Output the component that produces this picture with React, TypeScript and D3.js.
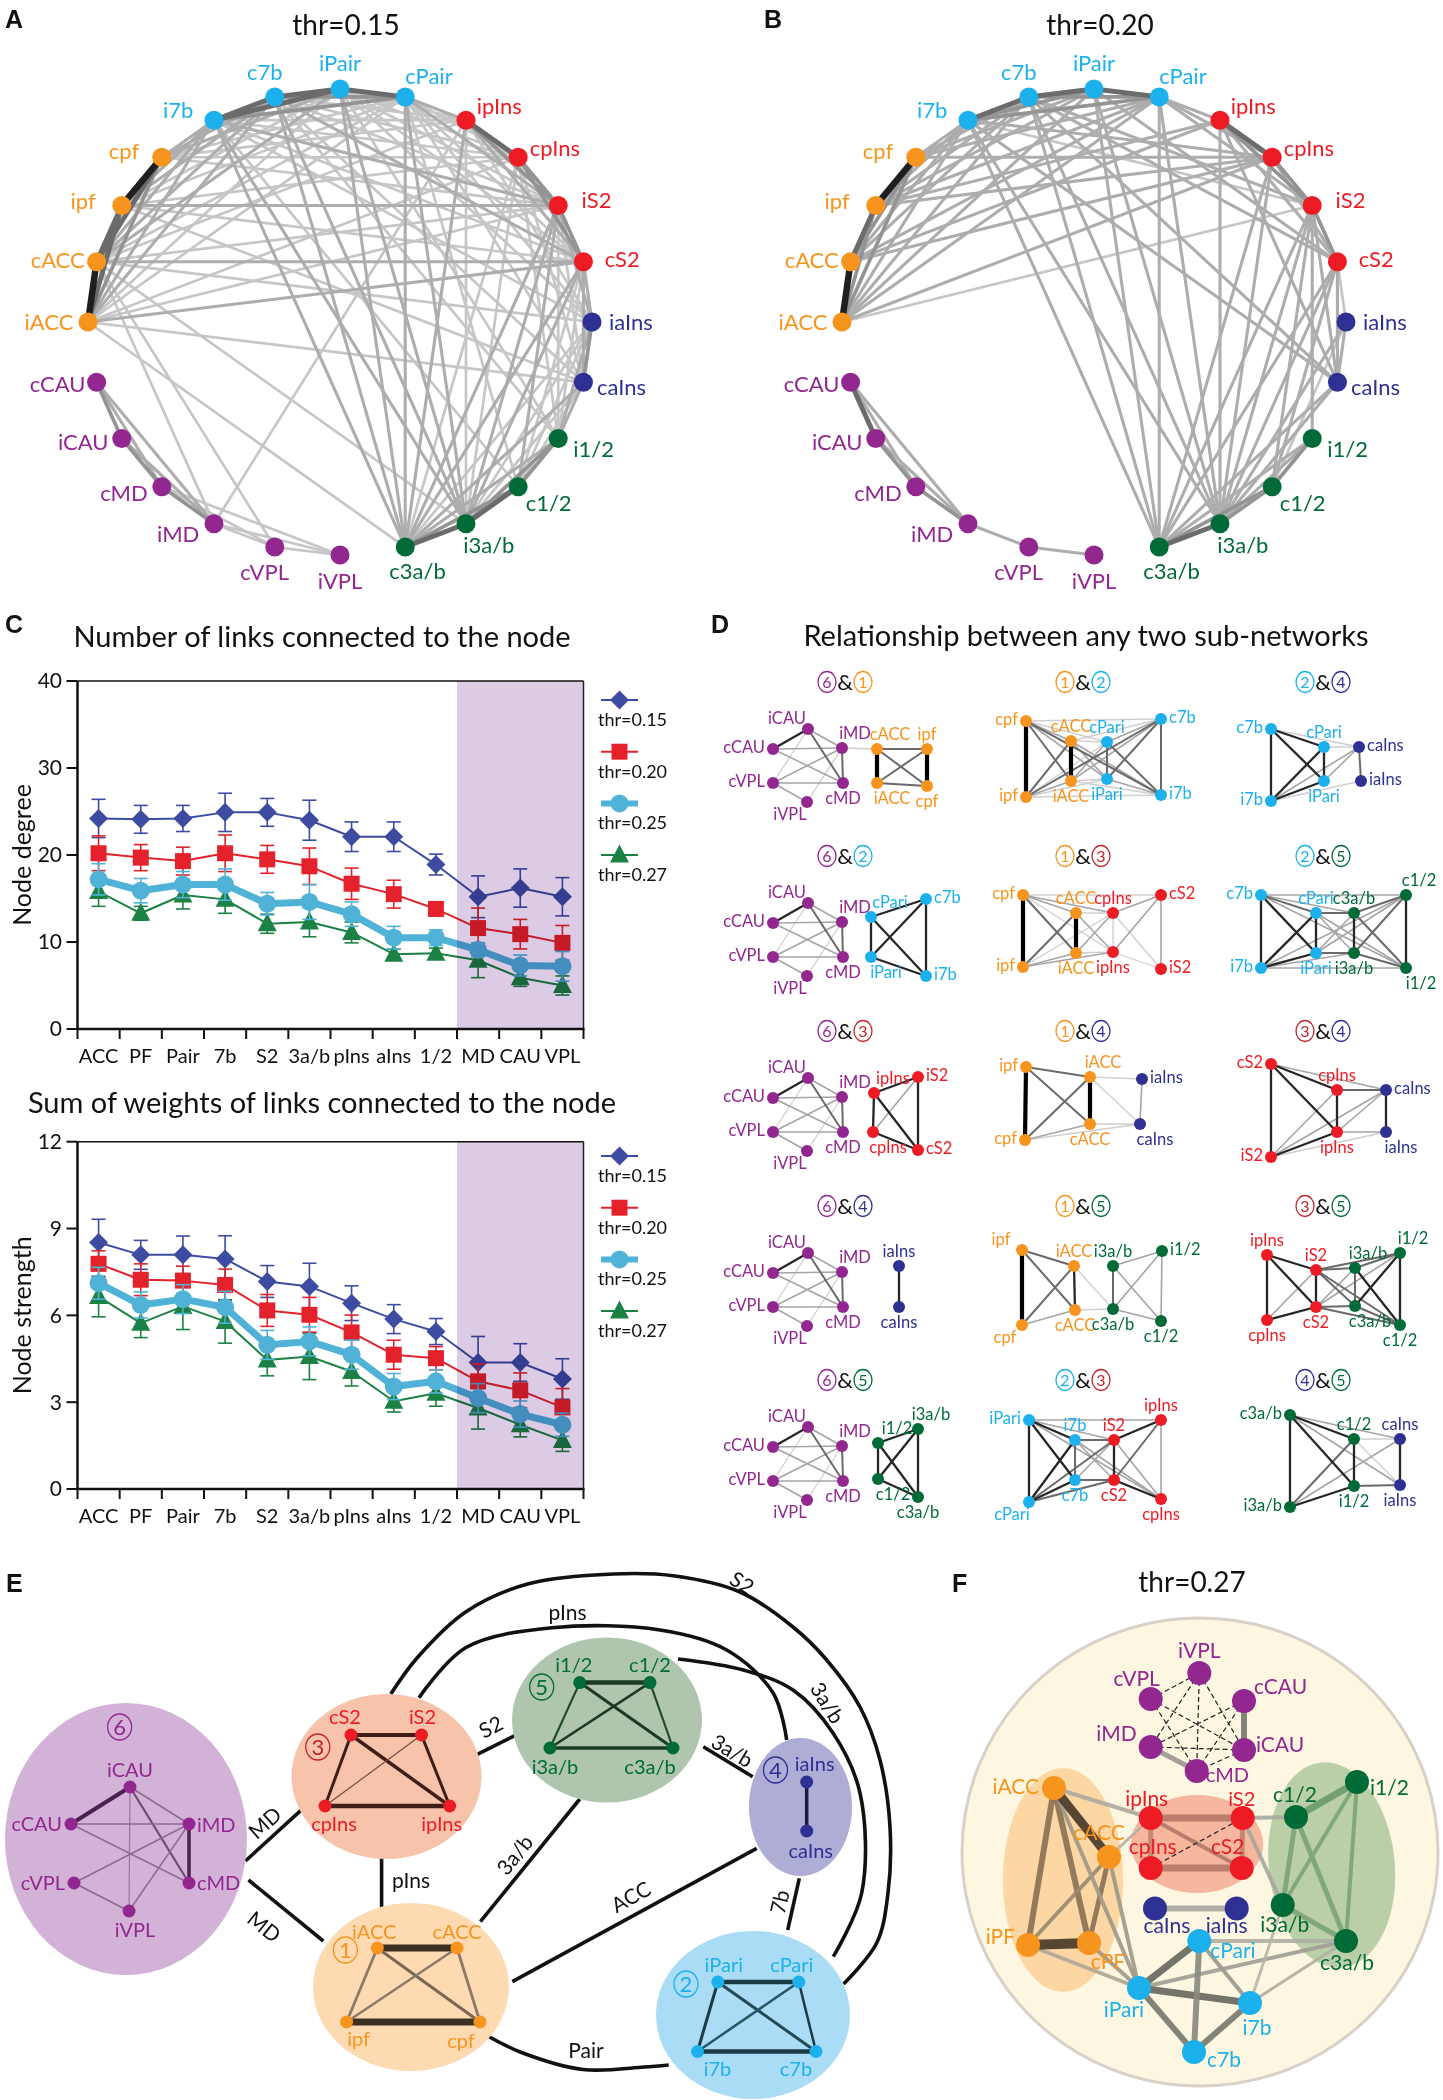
import React from "react";
import * as d3 from "d3";

const FONT = "Lato, 'Open Sans', sans-serif";
const BOLD = "'Liberation Sans', Arial, sans-serif";

const ORANGE = "#f7941d";
const CYAN = "#1cb1ec";
const RED = "#ed1c24";
const NAVY = "#2e3192";
const GREEN = "#006b37";
const PURPLE = "#92278f";
const DARKRED = "#c1272d";

function colorOf(n: string): string {
  if (/ACC|pf|PF/.test(n)) return ORANGE;
  if (/7b|Pair|Pari/.test(n)) return CYAN;
  if (/aIns/.test(n)) return NAVY;
  if (/S2|pIns/.test(n)) return RED;
  if (/1\/2|3a\/b/.test(n)) return GREEN;
  return PURPLE;
}
const SUBNET_COLOR: Record<number, string> = { 1: ORANGE, 2: CYAN, 3: DARKRED, 4: NAVY, 5: GREEN, 6: PURPLE };

// ================= A & B : ring graphs =================
const RING_NODES = ["iPair", "cPair", "ipIns", "cpIns", "iS2", "cS2", "iaIns", "caIns", "i1/2", "c1/2", "i3a/b", "c3a/b",
  "iVPL", "cVPL", "iMD", "cMD", "iCAU", "cCAU", "iACC", "cACC", "ipf", "cpf", "i7b", "c7b"];

const LINKS_THR015 = [
  "i7b c7b 4", "c7b iPair 4", "iPair cPair 4", "i7b iPair 4", "c7b cPair 3", "i7b cPair 3",
  "cpf ipf 5", "ipf cACC 4", "cACC iACC 5", "cpf cACC 4", "ipf iACC 4", "cpf iACC 3",
  "ipIns cpIns 4", "cpIns iS2 3", "iS2 cS2 3", "ipIns iS2 3", "cpIns cS2 3", "ipIns cS2 2",
  "iaIns caIns 3",
  "i1/2 c1/2 3", "c1/2 i3a/b 4", "i3a/b c3a/b 4", "i1/2 i3a/b 3", "c1/2 c3a/b 3", "i1/2 c3a/b 2",
  "cCAU iCAU 3", "iCAU cMD 3", "cMD iMD 3", "cCAU cMD 2", "cCAU iMD 2", "iCAU iMD 2", "iMD cVPL 1", "cVPL iVPL 1", "cMD cVPL 1", "iMD iVPL 1", "cMD iVPL 1",
  "i7b cpf 2", "i7b ipf 2", "i7b cACC 2", "i7b iACC 2", "c7b cpf 2", "c7b ipf 2", "c7b cACC 2", "c7b iACC 2",
  "iPair cpf 2", "iPair ipf 1", "iPair cACC 2", "iPair iACC 1", "cPair cpf 1", "cPair ipf 1", "cPair cACC 1", "cPair iACC 1",
  "i7b ipIns 1", "i7b cpIns 1", "i7b iS2 2", "i7b cS2 1", "c7b ipIns 1", "c7b cpIns 1", "c7b iS2 1", "c7b cS2 2",
  "iPair ipIns 1", "iPair cpIns 1", "iPair iS2 1", "iPair cS2 1", "cPair ipIns 2", "cPair cpIns 1", "cPair iS2 2", "cPair cS2 1",
  "i7b iaIns 1", "c7b caIns 1", "iPair iaIns 1", "cPair caIns 1", "cPair iaIns 1",
  "i7b i3a/b 2", "i7b c3a/b 2", "c7b i3a/b 2", "c7b c3a/b 2", "iPair c3a/b 2", "iPair i3a/b 2", "cPair c3a/b 2", "cPair i3a/b 2",
  "i7b c1/2 1", "c7b i1/2 1", "cPair c1/2 1", "iPair i1/2 1",
  "cpf ipIns 1", "cpf cpIns 1", "cpf iS2 1", "ipf cpIns 1", "ipf iS2 2", "ipf cS2 1", "cACC iS2 1", "cACC cS2 2", "cACC ipIns 1",
  "iACC cS2 2", "iACC iS2 1", "iACC cpIns 1",
  "iACC caIns 1", "cACC iaIns 1", "ipf caIns 1",
  "iACC c3a/b 1", "cACC i3a/b 1", "cACC iMD 1", "cACC cVPL 1", "iMD ipIns 1",
  "iS2 i3a/b 2", "iS2 c3a/b 2", "iS2 c1/2 2", "iS2 i1/2 1", "cS2 i3a/b 2", "cS2 c3a/b 2", "cS2 i1/2 1", "cS2 c1/2 1",
  "cpIns i3a/b 1", "cpIns c3a/b 1", "ipIns i3a/b 1", "ipIns c3a/b 2", "cpIns i1/2 1",
  "iS2 iaIns 2", "iS2 caIns 1", "cS2 iaIns 2", "cS2 caIns 2", "cpIns caIns 1", "ipIns iaIns 1",
  "iaIns i1/2 2", "caIns i1/2 2", "iaIns c1/2 1", "caIns c1/2 1", "iaIns i3a/b 1", "caIns i3a/b 1", "caIns c3a/b 2", "iaIns c3a/b 1",
];

const LINKS_THR020 = [
  "i7b c7b 4", "c7b iPair 4", "iPair cPair 4", "i7b iPair 3", "c7b cPair 3", "i7b cPair 3",
  "cpf ipf 5", "ipf cACC 4", "cACC iACC 5", "cpf cACC 3", "ipf iACC 3", "cpf iACC 3",
  "ipIns cpIns 4", "cpIns iS2 3", "iS2 cS2 3", "ipIns iS2 3", "cpIns cS2 2", "ipIns cS2 2",
  "iaIns caIns 2",
  "i1/2 c1/2 3", "c1/2 i3a/b 3", "i3a/b c3a/b 4", "i1/2 i3a/b 2", "c1/2 c3a/b 3", "i1/2 c3a/b 2",
  "cCAU iCAU 4", "iCAU cMD 3", "cMD iMD 3", "cCAU cMD 2", "cCAU iMD 2", "iCAU iMD 2", "iMD cVPL 2", "cVPL iVPL 2",
  "i7b cpf 2", "i7b ipf 2", "i7b cACC 2", "i7b iACC 2", "c7b cpf 2", "c7b ipf 2", "c7b cACC 2", "c7b iACC 2",
  "iPair cpf 2", "iPair ipf 2", "iPair iACC 2", "cPair cpf 2", "cPair ipf 2", "cPair cACC 2", "cPair iACC 2",
  "cPair ipIns 2", "cPair cpIns 2", "cPair iS2 2", "c7b iS2 2", "i7b cpIns 2", "iPair cS2 2", "i7b iS2 1", "c7b cS2 2",
  "i7b caIns 2", "c7b caIns 2",
  "i7b c3a/b 2", "c7b i3a/b 2", "iPair c3a/b 2", "cPair c3a/b 2", "c7b c3a/b 2", "i7b i3a/b 2", "iPair i3a/b 2", "cPair i3a/b 2",
  "cpf cpIns 2", "ipf ipIns 2", "cACC ipIns 2", "iACC cpIns 2", "cACC cpIns 2", "ipf cpIns 2", "iACC iS2 1",
  "iS2 i3a/b 2", "iS2 c3a/b 2", "iS2 c1/2 2", "iS2 i1/2 2", "cS2 i3a/b 2", "cS2 c3a/b 2", "cS2 c1/2 2",
  "ipIns i3a/b 2", "cpIns i3a/b 2", "cpIns c3a/b 2",
  "iS2 caIns 2", "cS2 iaIns 1", "ipIns caIns 2", "cS2 caIns 2",
  "iaIns i3a/b 2", "caIns i3a/b 2", "caIns c3a/b 2", "iaIns c1/2 1",
];

const RING_GRAY = ["", "#c6c6c6", "#adadad", "#949494", "#6b6b6b", "#1f1f1f"];
const RING_W = [0, 2.7, 3.1, 3.7, 4.9, 6.5];

function parseLinks(list: string[]) {
  return list.map((s) => { const [a, b, w] = s.split(" "); return { a, b, w: +w }; });
}

function Ring({ cx, cy, links, title }: { cx: number; cy: number; links: string[]; title: string }) {
  const rx = 252, ry = 233;
  const ang = d3.scaleLinear().domain([0, RING_NODES.length]).range([-Math.PI / 2, 1.5 * Math.PI]);
  const pos: Record<string, { x: number; y: number; t: number }> = {};
  RING_NODES.forEach((n, i) => { const t = ang(i); pos[n] = { x: cx + rx * Math.cos(t), y: cy + ry * Math.sin(t), t }; });
  const es = parseLinks(links).filter((e) => pos[e.a] && pos[e.b]).sort((p, q) => p.w - q.w);
  return (
    <g>
      <text x={cx + 6} y={34.6} textAnchor="middle" fontSize={28} fontFamily={FONT} fill="#111">{title}</text>
      {es.map((e, i) => (
        <line key={i} x1={pos[e.a].x} y1={pos[e.a].y} x2={pos[e.b].x} y2={pos[e.b].y}
          stroke={RING_GRAY[e.w]} strokeWidth={RING_W[e.w]} strokeLinecap="round" />
      ))}
      {RING_NODES.map((n) => {
        const p = pos[n];
        const c = Math.cos(p.t), s = Math.sin(p.t);
        const k = c > 1e-9 ? (s > 0 ? 0.8 : 0.35) : (Math.abs(s) > 0.9 ? 1 : 0.25);
        const phi = Math.atan2(k * s, c);
        return (
          <g key={n}>
            <circle cx={p.x} cy={p.y} r={9.5} fill={colorOf(n)} />
            <text x={p.x + 39 * Math.cos(phi)} y={p.y + 26 * Math.sin(phi)} dy="0.35em" textAnchor="middle"
              fontSize={22} fontFamily={FONT} fill={colorOf(n)}>{n}</text>
          </g>
        );
      })}
    </g>
  );
}

// ================= C : line charts =================
const CATS = ["ACC", "PF", "Pair", "7b", "S2", "3a/b", "pIns", "aIns", "1/2", "MD", "CAU", "VPL"];
const SHADED_FROM = "MD";
const SERIES = ["thr=0.15", "thr=0.20", "thr=0.25", "thr=0.27"];

const DEG_015 = [24.2, 24.1, 24.2, 24.9, 24.9, 24.0, 22.1, 22.1, 18.9, 15.2, 16.2, 15.2];
const DEG_015_ERR = [2.2, 1.6, 1.5, 2.2, 1.6, 2.3, 1.7, 1.7, 1.2, 2.4, 2.2, 2.2];
const DEG_020 = [20.2, 19.7, 19.3, 20.2, 19.5, 18.7, 16.7, 15.5, 13.8, 11.6, 10.9, 9.9];
const DEG_020_ERR = [2.0, 1.5, 1.6, 2.1, 1.6, 2.1, 1.8, 1.6, 0.8, 2.3, 1.7, 2.0];
const DEG_025 = [17.2, 15.9, 16.6, 16.6, 14.4, 14.6, 13.2, 10.5, 10.5, 9.1, 7.3, 7.2];
const DEG_025_ERR = [1.8, 1.4, 1.5, 1.8, 1.3, 2.0, 1.4, 1.3, 0.9, 0.8, 1.2, 1.7];
const DEG_027 = [15.8, 13.3, 15.4, 14.9, 12.1, 12.3, 11.1, 8.6, 8.7, 7.9, 5.9, 5.0];
const DEG_027_ERR = [1.7, 0.8, 1.6, 1.6, 1.1, 1.7, 1.2, 0.6, 0.6, 2.0, 1.0, 1.1];

const STR_015 = [8.52, 8.09, 8.09, 7.95, 7.17, 7.0, 6.42, 5.87, 5.44, 4.37, 4.37, 3.80];
const STR_015_ERR = [0.8, 0.5, 0.65, 0.8, 0.55, 0.8, 0.6, 0.5, 0.45, 0.9, 0.65, 0.7];
const STR_020 = [7.78, 7.23, 7.20, 7.05, 6.17, 6.02, 5.41, 4.64, 4.52, 3.72, 3.41, 2.82];
const STR_020_ERR = [0.45, 0.55, 0.5, 0.55, 0.55, 0.6, 0.6, 0.5, 0.4, 0.6, 0.6, 0.65];
const STR_025 = [7.11, 6.36, 6.56, 6.28, 4.98, 5.10, 4.64, 3.54, 3.72, 3.14, 2.59, 2.22];
const STR_025_ERR = [0.55, 0.45, 0.5, 0.55, 0.5, 0.5, 0.5, 0.45, 0.4, 0.5, 0.45, 0.4];
const STR_027 = [6.65, 5.73, 6.31, 5.79, 4.46, 4.58, 4.06, 3.03, 3.31, 2.80, 2.22, 1.68];
const STR_027_ERR = [0.7, 0.5, 0.8, 0.75, 0.55, 0.8, 0.5, 0.37, 0.45, 0.73, 0.42, 0.38];

const DEG_TICKS = [0, 10, 20, 30, 40];
const STR_TICKS = [0, 3, 6, 9, 12];

const SERIES_COLORS = ["#3d4ca1", "#e4222b", "#4fb2d6", "#1c8144"];
const SERIES_LW = [2, 2, 7, 2];
const SERIES_MARK = ["diamond", "square", "circle", "triangle"];

function Marker({ kind, x, y, color }: { kind: string; x: number; y: number; color: string }) {
  if (kind === "diamond") return <path d={`M${x},${y - 9.5}L${x + 9.5},${y}L${x},${y + 9.5}L${x - 9.5},${y}Z`} fill={color} />;
  if (kind === "square") return <rect x={x - 8} y={y - 8} width={16} height={16} fill={color} />;
  if (kind === "circle") return <circle cx={x} cy={y} r={9} fill={color} />;
  return <path d={`M${x},${y - 10.5}L${x + 9.5},${y + 7.5}L${x - 9.5},${y + 7.5}Z`} fill={color} />;
}

function LinePanel({ top, bottom, ticks, data, errs, ylabel, title, titleY, legendY }: {
  top: number; bottom: number; ticks: number[]; data: number[][]; errs: number[][]; ylabel: string; title: string; titleY: number; legendY: number;
}) {
  const x0 = 77.5, x1 = 583.5;
  const x = d3.scaleBand<string>().domain(CATS).range([x0, x1]).padding(0);
  const y = d3.scaleLinear().domain([ticks[0], ticks[ticks.length - 1]]).range([bottom, top]);
  const cx = (i: number) => (x(CATS[i]) as number) + x.bandwidth() / 2;
  const line = d3.line<number>().x((_, i) => cx(i)).y((d) => y(d));
  const order = [3, 0, 1, 2];
  const shadeX = x(SHADED_FROM) as number;
  const bounds = CATS.map((c) => x(c) as number).concat([x1]);
  return (
    <g fontFamily={FONT}>
      <text x={322} y={titleY} textAnchor="middle" fontSize={29} fill="#111">{title}</text>
      {order.map((si) => (
        <g key={si}>
          {data[si].map((v, i) => (
            <g key={i} stroke={SERIES_COLORS[si]} strokeWidth={1.6}>
              <line x1={cx(i)} x2={cx(i)} y1={y(v - errs[si][i])} y2={y(v + errs[si][i])} />
              <line x1={cx(i) - 7} x2={cx(i) + 7} y1={y(v + errs[si][i])} y2={y(v + errs[si][i])} />
              <line x1={cx(i) - 7} x2={cx(i) + 7} y1={y(v - errs[si][i])} y2={y(v - errs[si][i])} />
            </g>
          ))}
          <path d={line(data[si]) as string} fill="none" stroke={SERIES_COLORS[si]} strokeWidth={SERIES_LW[si]} strokeLinejoin="round" />
          {data[si].map((v, i) => <Marker key={i} kind={SERIES_MARK[si]} x={cx(i)} y={y(v)} color={SERIES_COLORS[si]} />)}
        </g>
      ))}
      <rect x={shadeX} y={top} width={x1 - shadeX} height={bottom - top} fill="#dccbe4" style={{ mixBlendMode: "multiply" }} />
      <line x1={x0} x2={x1} y1={top} y2={top} stroke="#111" strokeWidth={1.5} />
      <line x1={x1} x2={x1} y1={top} y2={bottom} stroke="#222" strokeWidth={1.5} />
      <line x1={x0} x2={x0} y1={top} y2={bottom + 1} stroke="#111" strokeWidth={2.5} />
      <line x1={x0 - 1} x2={x1 + 1} y1={bottom} y2={bottom} stroke="#111" strokeWidth={2.5} />
      {bounds.map((b, i) => <line key={i} x1={b} x2={b} y1={bottom} y2={bottom + 10} stroke="#111" strokeWidth={2} />)}
      {ticks.map((t) => (
        <g key={t}>
          <line x1={x0 - 11} x2={x0} y1={y(t)} y2={y(t)} stroke="#111" strokeWidth={2} />
          <text x={62} y={y(t)} dy="0.35em" textAnchor="end" fontSize={21} fill="#111">{t}</text>
        </g>
      ))}
      {CATS.map((c, i) => <text key={c} x={cx(i)} y={bottom + 34} textAnchor="middle" fontSize={20} fill="#111">{c}</text>)}
      <text transform={`translate(31,${(top + bottom) / 2}) rotate(-90)`} textAnchor="middle" fontSize={25} fill="#111">{ylabel}</text>
      {SERIES.map((s, si) => {
        const ly = legendY + si * 51.7;
        return (
          <g key={s}>
            <line x1={601} x2={638} y1={ly} y2={ly} stroke={SERIES_COLORS[si]} strokeWidth={si === 2 ? 6 : 2} />
            <Marker kind={SERIES_MARK[si]} x={619.5} y={ly} color={SERIES_COLORS[si]} />
            <text x={598} y={ly + 26} fontSize={18} fill="#111">{s}</text>
          </g>
        );
      })}
    </g>
  );
}

// ================= D : pairwise sub-network graphs =================
const D_PAIRS = [[6, 1], [1, 2], [2, 4], [6, 2], [1, 3], [2, 5], [6, 3], [1, 4], [3, 4], [6, 4], [1, 5], [3, 5], [6, 5], [2, 3], [4, 5]];

const D_HEX_LINKS = ["iCAU cCAU 4", "iCAU cMD 3", "iCAU cVPL 1", "iCAU iMD 2", "cCAU iMD 2", "cCAU cMD 2", "iMD cMD 3", "iMD cVPL 2", "iMD iVPL 1", "cVPL cMD 2", "cVPL iVPL 2"];

const D_LINKS = [
  ["iMD cACC 1", "cACC iACC 5", "ipf cpf 5", "cACC ipf 3", "iACC cpf 3", "cACC cpf 3", "iACC ipf 3"],
  ["cpf ipf 5", "cACC iACC 5", "cPari iPari 3", "c7b i7b 3", "cpf c7b 1", "ipf i7b 1", "cpf iACC 3", "cpf cACC 2", "cpf cPari 1", "cpf iPari 2", "cpf i7b 3", "ipf cACC 3", "ipf iACC 2", "ipf cPari 1", "ipf iPari 1", "ipf c7b 3", "cACC cPari 1", "cACC iPari 2", "cACC i7b 2", "iACC cPari 2", "iACC iPari 1", "iACC c7b 2", "cPari c7b 2", "cPari i7b 3", "iPari c7b 3", "iPari i7b 2", "cACC c7b 1", "iACC i7b 1"],
  ["c7b i7b 4", "c7b cPari 4", "c7b iPari 4", "cPari iPari 4", "cPari i7b 4", "iPari i7b 4", "c7b caIns 1", "cPari caIns 1", "caIns iaIns 3", "caIns i7b 2", "caIns iPari 2", "iaIns i7b 1"],
  ["cPari c7b 4", "cPari iPari 4", "c7b i7b 4", "cPari i7b 4", "iPari c7b 4", "iPari i7b 4"],
  ["cpf ipf 5", "cACC iACC 5", "cpIns ipIns 1", "cS2 iS2 2", "cpf cACC 2", "cpf iACC 3", "cpf cpIns 2", "cpf ipIns 1", "ipf cACC 3", "ipf iACC 2", "ipf ipIns 2", "ipf cpIns 1", "cACC cpIns 1", "cACC ipIns 2", "iACC cpIns 2", "iACC ipIns 1", "cpIns cS2 2", "cpIns iS2 1", "ipIns cS2 2", "ipIns iS2 1", "cpf cS2 1"],
  ["c7b i7b 4", "c7b cPari 3", "c7b iPari 4", "c7b c1/2 2", "i7b i1/2 2", "cPari iPari 4", "cPari i7b 4", "iPari i7b 4", "cPari c3a/b 3", "iPari i3a/b 3", "c3a/b i3a/b 4", "c3a/b c1/2 3", "i3a/b i1/2 3", "c1/2 i1/2 4", "c3a/b i1/2 3", "i3a/b c1/2 3", "cPari i3a/b 2", "iPari c3a/b 2", "c7b c3a/b 2", "i7b i3a/b 2", "i7b c1/2 2", "iPari c1/2 2", "cPari i1/2 2", "c7b i1/2 2"],
  ["ipIns iS2 4", "ipIns cpIns 4", "iS2 cS2 4", "cpIns cS2 4", "ipIns cS2 4", "iS2 cpIns 2"],
  ["ipf cpf 5", "iACC cACC 5", "ipf iACC 3", "ipf cACC 3", "cpf iACC 3", "cpf cACC 2", "iaIns caIns 2", "iACC caIns 1", "cACC caIns 1", "cpf caIns 1", "iACC iaIns 1"],
  ["cS2 iS2 4", "cS2 cpIns 4", "cS2 ipIns 4", "iS2 cpIns 2", "iS2 ipIns 4", "cpIns ipIns 4", "cpIns caIns 3", "ipIns iaIns 2", "caIns iaIns 4", "cS2 caIns 2", "iS2 caIns 2", "iS2 iaIns 1", "ipIns caIns 2"],
  ["iaIns caIns 4"],
  ["ipf cpf 5", "iACC cACC 4", "ipf iACC 3", "ipf cACC 3", "cpf iACC 3", "cpf cACC 2", "iACC c3a/b 1", "cACC c3a/b 1", "i3a/b c3a/b 3", "i3a/b i1/2 2", "i1/2 c1/2 2", "c3a/b c1/2 2", "i3a/b c1/2 2", "i1/2 c3a/b 2"],
  ["ipIns cpIns 4", "ipIns iS2 4", "ipIns cS2 4", "cpIns cS2 4", "cpIns iS2 2", "iS2 cS2 4", "iS2 i3a/b 3", "iS2 c3a/b 3", "iS2 i1/2 3", "iS2 c1/2 3", "cS2 c3a/b 3", "cS2 i3a/b 2", "cS2 c1/2 3", "cS2 i1/2 2", "i3a/b c3a/b 3", "i3a/b i1/2 3", "i3a/b c1/2 4", "c3a/b i1/2 4", "c3a/b c1/2 3", "i1/2 c1/2 4"],
  ["i1/2 i3a/b 4", "i1/2 c1/2 4", "i3a/b c3a/b 4", "c1/2 c3a/b 4", "i1/2 c3a/b 4", "i3a/b c1/2 4"],
  ["iPari cPari 4", "iPari i7b 4", "iPari c7b 4", "iPari ipIns 2", "iPari iS2 2", "cPari c7b 4", "cPari i7b 4", "cPari iS2 3", "cPari cS2 3", "i7b c7b 3", "i7b iS2 3", "i7b cS2 2", "c7b cS2 3", "c7b iS2 2", "iS2 cS2 4", "iS2 ipIns 4", "cS2 cpIns 4", "ipIns cpIns 2", "iS2 cpIns 2", "cS2 ipIns 3", "i7b cpIns 2", "iPari cpIns 2"],
  ["c3a/b i3a/b 4", "c3a/b c1/2 4", "c3a/b i1/2 4", "c3a/b caIns 2", "c3a/b iaIns 2", "i3a/b c1/2 3", "i3a/b i1/2 4", "i3a/b caIns 2", "c1/2 i1/2 4", "c1/2 caIns 1", "i1/2 iaIns 3", "caIns iaIns 4", "c1/2 iaIns 1"],
];

// layout (node, dx, dy from header centre, label side)
const D_HEX_LAYOUT = ["iCAU -37 47 tl", "cCAU -72 67 l", "iMD -3 66 tr", "cVPL -72 101 l", "cMD -2 101 b", "iVPL -38 120 bl"];
const D_LAYOUT = [
  ["cACC 32 67 tr", "ipf 82 67 t", "iACC 32 101 br", "cpf 82 104 b"],
  ["cpf -57 39 l", "ipf -57 115 l", "cACC -12 59 t", "iACC -12 99 b", "cPari 24 60 t", "iPari 24 97 b", "c7b 78 37 r", "i7b 78 113 r"],
  ["c7b -52 47 l", "i7b -52 119 l", "cPari 1 65 t", "iPari 1 99 b", "caIns 36 65 r", "iaIns 38 99 r"],
  ["cPari 26 61 trr", "c7b 81 43 r", "iPari 26 101 br", "i7b 81 120 r"],
  ["cpf -60 39 l", "ipf -60 111 l", "cACC -7 57 t", "iACC -7 97 b", "cpIns 30 57 t", "ipIns 30 96 b", "cS2 78 39 r", "iS2 78 113 r"],
  ["c7b -62 39 l", "i7b -62 112 l", "cPari -7 57 t", "iPari -7 97 b", "c3a/b 31 57 t", "i3a/b 31 97 b", "c1/2 83 39 tr", "i1/2 83 112 br"],
  ["ipIns 29 62 trr", "iS2 73 46 r", "cpIns 28 101 br", "cS2 73 119 r"],
  ["ipf -57 36 l", "cpf -58 109 l", "iACC 7 46 tr", "cACC 7 93 b", "iaIns 59 48 r", "caIns 57 93 br"],
  ["cS2 -52 33 l", "iS2 -52 126 l", "cpIns 14 59 t", "ipIns 14 101 b", "caIns 63 59 r", "iaIns 63 101 br"],
  ["iaIns 54 60 t", "caIns 54 101 b"],
  ["ipf -61 44 tl", "cpf -61 119 bl", "iACC -9 60 t", "cACC -8 104 b", "i3a/b 30 60 t", "c3a/b 30 103 b", "i1/2 79 45 r", "c1/2 78 115 b"],
  ["ipIns -56 49 t", "iS2 -7 64 t", "i3a/b 32 62 tr", "i1/2 77 47 tr", "cpIns -56 114 b", "cS2 -7 101 b", "c3a/b 32 100 br", "c1/2 77 119 b"],
  ["i1/2 33 63 trr", "i3a/b 73 49 tr", "c1/2 33 99 br", "c3a/b 73 117 b"],
  ["iPari -54 40 l", "cPari -54 122 bl", "i7b -8 60 t", "c7b -8 100 b", "iS2 31 60 t", "cS2 31 100 b", "ipIns 78 40 t", "cpIns 78 119 b"],
  ["c3a/b -33 35 l", "i3a/b -33 127 l", "c1/2 31 59 t", "i1/2 31 106 b", "caIns 77 59 t", "iaIns 77 105 b"],
];
const D_COLS = [845, 1083, 1323];
const D_ROWS = [682, 856, 1031, 1206, 1380];
const D_GRAY = ["", "#cfcfcf", "#a5a5a5", "#6a6a6a", "#262626", "#000"];
const D_W = [0, 1.3, 1.6, 2, 2.3, 4.2];
const LABEL_SIDE: Record<string, [number, number, string]> = {
  t: [0, -15, "middle"], b: [0, 15, "middle"], l: [-8, -2, "end"], r: [8, -2, "start"],
  tl: [-21, -11, "middle"], tr: [13, -15, "middle"], trr: [19, -15, "middle"], bl: [-17, 12, "middle"], br: [15, 15, "middle"],
};

function Circled({ x, y, n, rx, ry, fs }: { x: number; y: number; n: number; rx: number; ry: number; fs: number }) {
  const c = SUBNET_COLOR[n];
  return (
    <g>
      <ellipse cx={x} cy={y} rx={rx} ry={ry} fill="none" stroke={c} strokeWidth={1.3} />
      <text x={x} y={y} dy="0.36em" textAnchor="middle" fontSize={fs} fontFamily={FONT} fill={c}>{n}</text>
    </g>
  );
}

function PairGraph({ idx }: { idx: number }) {
  const [a, b] = D_PAIRS[idx];
  const hx = D_COLS[idx % 3], hy = D_ROWS[Math.floor(idx / 3)];
  const specs = (a === 6 ? D_HEX_LAYOUT : []).concat(D_LAYOUT[idx]);
  const pos: Record<string, { x: number; y: number; side: string }> = {};
  specs.forEach((s) => { const [n, dx, dy, side] = s.split(" "); pos[n] = { x: hx + +dx, y: hy + +dy, side }; });
  const links = parseLinks((a === 6 ? D_HEX_LINKS : []).concat(D_LINKS[idx])).filter((e) => pos[e.a] && pos[e.b]).sort((p, q) => p.w - q.w);
  return (
    <g>
      <Circled x={hx - 18} y={hy} n={a} rx={9} ry={10.5} fs={16} />
      <text x={hx} y={hy} dy="0.36em" textAnchor="middle" fontSize={22} fontFamily={FONT} fill="#111">&amp;</text>
      <Circled x={hx + 18} y={hy} n={b} rx={9} ry={10.5} fs={16} />
      {links.map((e, i) => (
        <line key={i} x1={pos[e.a].x} y1={pos[e.a].y} x2={pos[e.b].x} y2={pos[e.b].y} stroke={D_GRAY[e.w]} strokeWidth={D_W[e.w]} />
      ))}
      {Object.keys(pos).map((n) => {
        const p = pos[n];
        const [lx, ly, anchor] = LABEL_SIDE[p.side];
        return (
          <g key={n}>
            <circle cx={p.x} cy={p.y} r={6} fill={colorOf(n)} />
            <text x={p.x + lx} y={p.y + ly} dy="0.35em" textAnchor={anchor as any} fontSize={16.5} fontFamily={FONT} fill={colorOf(n)}>{n}</text>
          </g>
        );
      })}
    </g>
  );
}

// ================= E : sub-network diagram =================
const E_GROUPS = [
  { id: 6, x: 126, y: 1839, rx: 121, ry: 136, fill: "#d3b2d8", nx: 119.6, ny: 1727 },
  { id: 3, x: 386.5, y: 1776.5, rx: 95, ry: 82.5, fill: "#f8c3ab", nx: 317.8, ny: 1747 },
  { id: 5, x: 607, y: 1720, rx: 95, ry: 82.5, fill: "#afc5ae", nx: 541.7, ny: 1687 },
  { id: 4, x: 800.5, y: 1807, rx: 51.5, ry: 69, fill: "#aeadd5", nx: 775.5, ny: 1770 },
  { id: 1, x: 411, y: 1987, rx: 98, ry: 84, fill: "#fddab2", nx: 345.4, ny: 1950 },
  { id: 2, x: 753, y: 2015, rx: 97, ry: 84, fill: "#aadcf6", nx: 686, ny: 1984 },
];
const E_NODES = [
  "iCAU 130 1787 0 -17 middle", "cCAU 71 1824 -9 0 end", "iMD 189 1824 8 1 start", "cVPL 74 1883 -9 0 end", "cMD 189 1883 8 0 start", "iVPL 129 1911 6 19 middle",
  "cS2 351 1735 -6 -18 middle", "iS2 421.5 1735 1 -18 middle", "cpIns 325 1806 9 18 middle", "ipIns 449.7 1806 -8 18 middle",
  "i1/2 579.8 1682.6 -6 -18 middle", "c1/2 650 1682.6 0 -18 middle", "i3a/b 550 1748 5 19 middle", "c3a/b 673 1748 -23 19 middle",
  "iaIns 806.7 1782 8 -18 middle", "caIns 806.7 1831 4 20 middle",
  "iACC 377.3 1948 -3 -16 middle", "cACC 457 1948 0 -16 middle", "ipf 346.6 2022 12 17 middle", "cpf 480 2022 -19 19 middle",
  "iPari 717.8 1982 6 -17 middle", "cPari 798.8 1982 -7 -17 middle", "i7b 697.5 2051.5 20 17 middle", "c7b 816 2051.5 -20 17 middle",
];
const E_LINKS = [
  "iCAU cCAU 4 #4a2050", "iCAU iMD 1.5 #8d6b92", "iCAU cMD 2.2 #6e4a74", "iCAU iVPL 1.3 #9a7ca0", "cCAU iMD 1.5 #8d6b92", "cCAU cMD 1.5 #8d6b92",
  "iMD cMD 3.5 #4a2050", "iMD cVPL 1.5 #8d6b92", "iMD iVPL 1.5 #8d6b92", "cVPL iVPL 1.8 #8d6b92",
  "cS2 iS2 4 #3e1e16", "cpIns ipIns 4.5 #3e1e16", "cS2 cpIns 3 #3e1e16", "iS2 ipIns 3 #3e1e16", "cS2 ipIns 3.5 #3e1e16", "iS2 cpIns 1.2 #7a4a40",
  "i1/2 c1/2 4.5 #1c3a22", "i1/2 i3a/b 2.2 #244a2c", "c1/2 c3a/b 2.2 #244a2c", "i1/2 c3a/b 3 #1c3a22", "c1/2 i3a/b 2.5 #1c3a22", "i3a/b c3a/b 3.5 #1c3a22",
  "iaIns caIns 3.5 #1c1c40",
  "iACC cACC 7 #3c2f22", "ipf cpf 7 #3c2f22", "iACC ipf 2.8 #8c7a66", "cACC cpf 2.8 #8c7a66", "iACC cpf 3 #7a6652", "cACC ipf 2.5 #8c7a66",
  "iPari cPari 4.5 #1a3a44", "i7b c7b 4.5 #1a3a44", "iPari i7b 3 #1a3a44", "cPari c7b 2.5 #1a3a44", "iPari c7b 3 #234a55", "cPari i7b 2.5 #2a5562",
];
const E_BRIDGES = [
  { label: "MD", pts: [[245.4, 1861], [300.6, 1810.6]], lx: 265, ly: 1823, rot: -42 },
  { label: "MD", pts: [[248.5, 1880], [323.3, 1941]], lx: 264, ly: 1927, rot: 39 },
  { label: "pIns", pts: [[381.6, 1857], [381.6, 1908]], lx: 411, ly: 1881, rot: 0 },
  { label: "S2", pts: [[477.3, 1754.3], [515.3, 1735.3]], lx: 491, ly: 1727, rot: -27 },
  { label: "3a/b", pts: [[579.8, 1799], [480.4, 1921.7]], lx: 515, ly: 1855, rot: -51 },
  { label: "3a/b", pts: [[703.3, 1746.7], [752.7, 1776.7]], lx: 732, ly: 1751, rot: 31 },
  { label: "ACC", pts: [[512.3, 1981.6], [756.7, 1848.3]], lx: 631, ly: 1897, rot: -29 },
  { label: "7b", pts: [[799.3, 1878.3], [787.7, 1930]], lx: 780, ly: 1902, rot: -77 },
  { label: "Pair", pts: [[487.7, 2036], [521.5, 2052.5], [583, 2069.5], [644, 2067], [668.7, 2065]], lx: 586, ly: 2051, rot: 0 },
  { label: "S2", pts: [[390.8, 1694], [417, 1658], [466, 1611.7], [527.6, 1584], [613.5, 1574], [675, 1576], [740, 1592], [793, 1627], [826.7, 1660], [860, 1707], [880, 1760], [890, 1827], [888, 1893], [876.7, 1943], [843.6, 1984]], lx: 742, ly: 1583, rot: 32 },
  { label: "pIns", pts: [[419, 1697.7], [466, 1647.5], [552, 1627.8], [660, 1630], [726.7, 1650], [773.3, 1693.3], [786.7, 1740]], lx: 567.5, ly: 1613, rot: 0 },
  { label: "3a/b", pts: [[678, 1659], [743.3, 1670], [793, 1690], [833, 1733], [860, 1793], [861.7, 1893], [833.3, 1956.7]], lx: 827, ly: 1703, rot: 58 },
];

function PanelE() {
  const pos: Record<string, { x: number; y: number; lx: number; ly: number; a: string }> = {};
  E_NODES.forEach((s) => { const [n, x, y, lx, ly, a] = s.split(" "); pos[n] = { x: +x, y: +y, lx: +lx, ly: +ly, a }; });
  const curve = d3.line<number[]>().x((d) => d[0]).y((d) => d[1]).curve(d3.curveCatmullRom.alpha(0.5));
  return (
    <g fontFamily={FONT}>
      {E_BRIDGES.map((b, i) => (
        <path key={i} d={curve(b.pts) as string} fill="none" stroke="#111" strokeWidth={3.6} />
      ))}
      {E_GROUPS.map((g) => <ellipse key={g.id} cx={g.x} cy={g.y} rx={g.rx} ry={g.ry} fill={g.fill} />)}
      {E_BRIDGES.map((b, i) => (
        <text key={i} transform={`translate(${b.lx},${b.ly}) rotate(${b.rot})`} dy="0.35em" textAnchor="middle" fontSize={21} fill="#111">{b.label}</text>
      ))}
      {E_GROUPS.map((g) => <Circled key={g.id} x={g.nx} y={g.ny} n={g.id} rx={12} ry={13} fs={22} />)}
      {E_LINKS.map((s, i) => {
        const [a, b, w, c] = s.split(" ");
        return <line key={i} x1={pos[a].x} y1={pos[a].y} x2={pos[b].x} y2={pos[b].y} stroke={c} strokeWidth={+w} />;
      })}
      {Object.keys(pos).map((n) => {
        const p = pos[n];
        return (
          <g key={n}>
            <circle cx={p.x} cy={p.y} r={6.5} fill={colorOf(n)} />
            <text x={p.x + p.lx} y={p.y + p.ly} dy="0.35em" textAnchor={p.a as any} fontSize={20} fill={colorOf(n)}>{n}</text>
          </g>
        );
      })}
    </g>
  );
}

// ================= F : thr=0.27 network =================
const F_NODES = [
  "iVPL 1199.3 1673 0 -22 middle", "cVPL 1150.7 1699 -14 -20 middle", "cCAU 1244 1701 10 -14 start", "iMD 1150.7 1747 -14 -13 end",
  "iCAU 1244 1750 12 -5 start", "cMD 1196.7 1771 9 4 start",
  "iACC 1054 1788 -15 -1 end", "cACC 1109 1857 -10 -24 middle", "iPF 1028 1945 -13 -8 end", "cPF 1089 1943 19 19 middle",
  "ipIns 1150.7 1818 -4 -19 middle", "iS2 1242.7 1818 -1 -19 middle", "cpIns 1150.7 1868 2 -21 middle", "cS2 1241.7 1868 -14 -21 middle",
  "caIns 1155 1908.5 12 17 middle", "iaIns 1236.7 1908.5 -10 17 middle",
  "c1/2 1296 1817 -1 -22 middle", "i1/2 1357 1782 13 6 start", "i3a/b 1282.7 1905 2 20 middle", "c3a/b 1346 1941 1 22 middle",
  "cPari 1199.3 1941 11 10 start", "iPari 1139 1988 -15 22 middle", "i7b 1250 2003 7 25 middle", "c7b 1194 2052 13 8 start",
];
const F_LINKS = [
  "iACC iPF 6 #8b7355", "iACC cPF 6 #8b7355", "cACC iPF 4 #9a8a70", "cACC cPF 5 #8b7355",
  "iACC iPari 4 #a09a88", "cACC iPari 4 #a09a88", "cPF iPari 4 #a09a88", "iPF iPari 4 #b0a898",
  "iACC ipIns 4 #b0ab9e", "cACC ipIns 3 #b8b0a0",
  "iACC cACC 9 #4a3a28", "iPF cPF 10 #4a3a28",
  "ipIns iS2 7 #b87a68", "cpIns cS2 7 #b87a68", "ipIns cpIns 5 #c08570", "iS2 cS2 5 #c08570", "ipIns cS2 4 #b07a6a",
  "iS2 c1/2 4 #a8aca0", "iS2 i3a/b 4 #a8a8a0",
  "c1/2 i1/2 7 #6e9a6c", "c1/2 i3a/b 5 #7da57a", "c1/2 c3a/b 5 #7da57a", "i1/2 i3a/b 4 #7da57a", "i1/2 c3a/b 4 #7da57a", "i3a/b c3a/b 5 #7da57a",
  "caIns iaIns 6 #a8a8a0",
  "iPari c3a/b 4 #a0a094", "cPari c3a/b 4 #b0b0a4", "i7b c3a/b 3 #b0b0a4", "i7b i3a/b 3 #b8b8ac",
  "iPari cPari 7 #6a6a62", "iPari i7b 7 #6a6a62", "iPari c7b 6 #7a7a70", "cPari c7b 6 #8a8a80", "cPari i7b 4 #9a9a90", "i7b c7b 6 #7a7a70",
  "cCAU iCAU 6 #7a7a70", "iMD cMD 5 #9a9a90",
];
const F_DASHED = ["cpIns iS2", "cVPL iVPL", "cVPL iCAU", "cVPL cMD", "iVPL iMD", "iVPL cMD", "iVPL iCAU", "cCAU iMD", "cCAU cMD", "iMD iCAU", "iCAU cMD"];

function PanelF() {
  const pos: Record<string, { x: number; y: number; lx: number; ly: number; a: string }> = {};
  F_NODES.forEach((s) => { const [n, x, y, lx, ly, a] = s.split(" "); pos[n] = { x: +x, y: +y, lx: +lx, ly: +ly, a }; });
  return (
    <g fontFamily={FONT}>
      <text x={1192} y={1592} textAnchor="middle" fontSize={28} fill="#111">thr=0.27</text>
      <ellipse cx={1200} cy={1852} rx={238} ry={234} fill="#fdf6e1" stroke="#d9d0c7" strokeWidth={3} />
      <ellipse cx={1063} cy={1880} rx={60} ry={112} fill="#fbcf95" opacity={0.8} />
      <ellipse cx={1197} cy={1844} rx={66} ry={49} fill="#f4a287" opacity={0.75} />
      <ellipse cx={1331.7} cy={1865} rx={63} ry={103} fill="#9dbf8e" opacity={0.7} transform="rotate(-6 1331.7 1865)" />
      {F_LINKS.map((s, i) => {
        const [a, b, w, c] = s.split(" ");
        return <line key={i} x1={pos[a].x} y1={pos[a].y} x2={pos[b].x} y2={pos[b].y} stroke={c} strokeWidth={+w} opacity={0.92} />;
      })}
      {F_DASHED.map((s, i) => {
        const [a, b] = s.split(" ");
        return <line key={i} x1={pos[a].x} y1={pos[a].y} x2={pos[b].x} y2={pos[b].y} stroke="#222" strokeWidth={1.2} strokeDasharray="5 3" />;
      })}
      {Object.keys(pos).map((n) => {
        const p = pos[n];
        return (
          <g key={n}>
            <circle cx={p.x} cy={p.y} r={12} fill={colorOf(n)} />
            <text x={p.x + p.lx} y={p.y + p.ly} dy="0.35em" textAnchor={p.a as any} fontSize={n === "cMD" || n === "iS2" ? 20 : 21} fill={colorOf(n)}>{n}</text>
          </g>
        );
      })}
    </g>
  );
}

export default function App() {
  return (
    <div>
      <style>{`body{margin:0;background:#fff}`}</style>
      <svg width={1443} height={2100} viewBox="0 0 1443 2100" style={{ display: "block" }}>
        <rect width={1443} height={2100} fill="#fff" />
        <g fontFamily={BOLD} fontWeight="bold" fontSize={25} fill="#111">
          <text x={5} y={28}>A</text>
          <text x={764} y={28}>B</text>
          <text x={5} y={633}>C</text>
          <text x={711} y={633}>D</text>
          <text x={6} y={1592}>E</text>
          <text x={952} y={1592}>F</text>
        </g>
        <Ring cx={340} cy={322} links={LINKS_THR015} title="thr=0.15" />
        <Ring cx={1094} cy={322} links={LINKS_THR020} title="thr=0.20" />
        <LinePanel top={681} bottom={1029} ticks={DEG_TICKS}
          data={[DEG_015, DEG_020, DEG_025, DEG_027]} errs={[DEG_015_ERR, DEG_020_ERR, DEG_025_ERR, DEG_027_ERR]}
          ylabel="Node degree" title="Number of links connected to the node" titleY={646.7} legendY={700} />
        <LinePanel top={1141.7} bottom={1489} ticks={STR_TICKS}
          data={[STR_015, STR_020, STR_025, STR_027]} errs={[STR_015_ERR, STR_020_ERR, STR_025_ERR, STR_027_ERR]}
          ylabel="Node strength" title="Sum of weights of links connected to the node" titleY={1113} legendY={1156} />
        <text x={1086} y={646} textAnchor="middle" fontSize={29} fontFamily={FONT} fill="#111">Relationship between any two sub-networks</text>
        {D_PAIRS.map((_, i) => <PairGraph key={i} idx={i} />)}
        <PanelE />
        <PanelF />
      </svg>
    </div>
  );
}
